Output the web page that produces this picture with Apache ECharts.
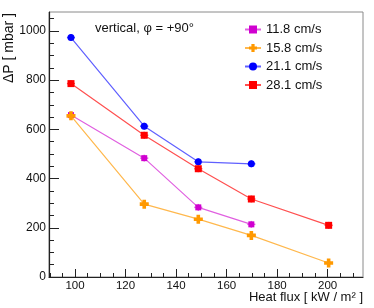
<!DOCTYPE html>
<html>
<head>
<meta charset="utf-8">
<script src="https://cdn.jsdelivr.net/npm/echarts@6/dist/echarts.min.js"></script>
<style>html,body{margin:0;padding:0;background:#fff}#c{width:374px;height:308px}</style>
</head>
<body>
<div id="c"></div>
<script>
const seriesNames = ['11.8 cm/s', '15.8 cm/s', '21.1 cm/s', '28.1 cm/s'];
const heatFlux11 = [98.4, 127.4, 148.8, 169.8];
const dp11 = [658, 483, 283, 214];
const heatFlux15 = [98.4, 127.4, 148.8, 169.8, 200.4];
const dp15 = [655, 296, 235, 169, 57];
const heatFlux21 = [98.4, 127.4, 148.8, 169.8];
const dp21 = [973, 613, 468, 460];
const heatFlux28 = [98.4, 127.4, 148.8, 169.8, 200.4];
const dp28 = [786, 576, 440, 317, 210];
const xErr = 1.6;
const yErr = 14;
const xMajorTicks = [100, 120, 140, 160, 180, 200];
const xMinorTicks = [90, 95, 105, 110, 115, 125, 130, 135, 145, 150, 155, 165, 170, 175, 185, 190, 195, 205, 210];
const yMajorTicks = [0, 200, 400, 600, 800, 1000];
const yMinorTicks = [50, 100, 150, 250, 300, 350, 450, 500, 550, 650, 700, 750, 850, 900, 950, 1050];

const markerColors = ['#d000d0', '#ff9900', '#0000ff', '#ff0000'];
const lineColors = ['#e060e0', '#ffb84d', '#6060ff', '#ff5050'];
const symbols = ['rect', 'path://M3,0H7V3H10V7H7V10H3V7H0V3H3Z', 'circle', 'rect'];
const symbolSizes = [6, 9, 7, 7];
const xs = [heatFlux11, heatFlux15, heatFlux21, heatFlux28];
const ys = [dp11, dp15, dp21, dp28];

const font = 'Liberation Sans, Arial, sans-serif';
const chart = echarts.init(document.getElementById('c'), null, {renderer: 'canvas'});

const baseX = {
  type: 'value', min: 89.7, max: 214,
  axisLine: {show: false},
  splitLine: {show: false}
};
const baseY = {
  type: 'value', min: 0, max: 1077,
  axisLine: {show: false},
  splitLine: {show: false}
};

const series = [];
seriesNames.forEach((name, i) => {
  const data = xs[i].map((x, k) => [x, ys[i][k]]);
  series.push({
    type: 'custom', name: name + '_err', xAxisIndex: 0, yAxisIndex: 0,
    silent: true, z: 2,
    renderItem: (params, api) => {
      const x = api.value(0), y = api.value(1);
      const l = api.coord([x - xErr, y]), r = api.coord([x + xErr, y]);
      const t = api.coord([x, y + yErr]), b = api.coord([x, y - yErr]);
      const st = {stroke: lineColors[i], lineWidth: 1.5};
      return {type: 'group', children: [
        {type: 'line', shape: {x1: l[0], y1: l[1], x2: r[0], y2: r[1]}, style: st},
        {type: 'line', shape: {x1: t[0], y1: t[1], x2: b[0], y2: b[1]}, style: st}
      ]};
    },
    data: data
  });
  series.push({
    type: 'line', name: name, xAxisIndex: 0, yAxisIndex: 0, z: 3,
    data: data,
    symbol: symbols[i], symbolSize: symbolSizes[i], showSymbol: true,
    itemStyle: {color: markerColors[i]},
    lineStyle: {color: lineColors[i], width: 1.2},
    animation: false
  });
});

chart.setOption({
  animation: false,
  grid: {left: 49, top: 12, right: 11, bottom: 31, show: true, borderColor: '#8a8a8a', borderWidth: 1},
  xAxis: [
    Object.assign({}, baseX, {
      axisLine: {show: true, onZero: false, lineStyle: {color: '#222', width: 1.2}},
      axisTick: {show: true, inside: true, length: 8, customValues: xMajorTicks, lineStyle: {color: '#222'}},
      axisLabel: {show: true, customValues: xMajorTicks, color: '#111', fontSize: 11.5, fontFamily: font, margin: 3, formatter: v => String(v)}
    }),
    Object.assign({}, baseX, {
      position: 'bottom',
      axisTick: {show: true, inside: true, length: 4, customValues: xMinorTicks, lineStyle: {color: '#222'}},
      axisLabel: {show: false}
    })
  ],
  yAxis: [
    Object.assign({}, baseY, {
      axisLine: {show: true, onZero: false, lineStyle: {color: '#222', width: 1.2}},
      axisTick: {show: true, inside: true, length: 10, customValues: yMajorTicks, lineStyle: {color: '#222'}},
      axisLabel: {show: true, customValues: yMajorTicks, color: '#111', fontSize: 12, fontFamily: font, margin: 3, formatter: v => String(v)}
    }),
    Object.assign({}, baseY, {
      position: 'left',
      axisTick: {show: true, inside: true, length: 5, customValues: yMinorTicks, lineStyle: {color: '#222'}},
      axisLabel: {show: false}
    })
  ],
  legend: {
    orient: 'vertical', left: 239, top: 18,
    itemWidth: 16, itemHeight: 10, itemGap: 5.5,
    data: seriesNames,
    textStyle: {fontSize: 13, fontFamily: font, color: '#111'},
    selectedMode: false
  },
  graphic: [
    {type: 'text', left: 95, top: 22, style: {text: 'vertical, φ = +90°', fontSize: 13, fontFamily: font, fill: '#111'}},
    {type: 'text', x: 9.5, y: 13, rotation: Math.PI / 2, style: {text: 'ΔP [ mbar ]', fontSize: 14, fontFamily: font, fill: '#111', align: 'right', verticalAlign: 'middle'}},
    {type: 'text', x: 363, y: 297, style: {text: 'Heat flux [ kW / m² ]', fontSize: 13, fontFamily: font, fill: '#111', align: 'right', verticalAlign: 'middle'}}
  ],
  series: series
});
</script>
</body>
</html>
